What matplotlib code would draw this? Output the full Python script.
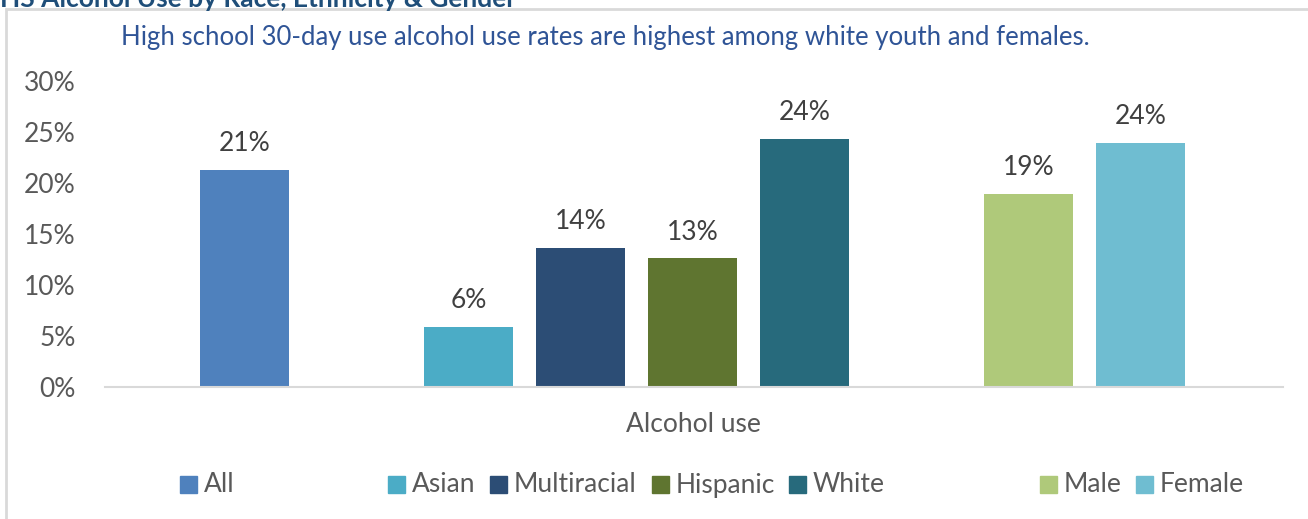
import matplotlib
matplotlib.use("Agg")
import matplotlib.pyplot as plt
from matplotlib.patches import Rectangle

# ---- data ----
groups = ["All", "Asian", "Multiracial", "Hispanic", "White", "Male", "Female"]
rates = [0.213, 0.059, 0.136, 0.126, 0.243, 0.189, 0.239]
slots = [0, 2, 3, 4, 5, 7, 8]          # empty slots separate the three blocks
colors = ["#4F81BD", "#4BACC6", "#2C4D75", "#5F7530", "#276A7C", "#AFC97A", "#6FBDD1"]
yticks = [0, 0.05, 0.10, 0.15, 0.20, 0.25, 0.30]
category = "Alcohol use"
title = "HS Alcohol Use by Race, Ethnicity & Gender"
subtitle = "High school 30-day use alcohol use rates are highest among white youth and females."

W, H = 1308, 519
plt.rcParams["font.family"] = ["Lato", "DejaVu Sans"]
fig = plt.figure(figsize=(W / 100, H / 100), dpi=100)

def px(x, y):
    """figure fraction from pixel coords measured from top-left"""
    return x / W, 1 - y / H

# outer frame
fig.patches.append(Rectangle(px(6, 530), (W + 20) / W, (530 - 9) / H,
                             transform=fig.transFigure, fill=False,
                             edgecolor="#D9D9D9", lw=2))

# heading (sits at the very top edge)
fig.text(*px(0, 7), title, fontsize=19, fontweight="bold", color="#1F4E79",
         va="baseline", ha="left")
fig.text(*px(605, 37), subtitle, fontsize=18.5, color="#2F5496",
         va="center", ha="center")

left, right, top, bottom = 105, 1283, 81, 387
ax = fig.add_axes([left / W, 1 - bottom / H, (right - left) / W, (bottom - top) / H])
bars = ax.bar(slots, rates, width=0.795, color=colors)
for s, v in zip(slots, rates):
    ax.text(s, v + 0.0185, f"{round(v * 100):d}%", ha="center", va="baseline",
            fontsize=19, color="#404040")

ax.set_ylim(0, 0.30)
ax.set_xlim(-1.25, 9.27)
ax.set_yticks(yticks)
ax.set_yticklabels([f"{round(t * 100):d}%" for t in yticks], fontsize=19, color="#595959")
ax.tick_params(axis="y", length=0, pad=21)
ax.set_xticks([])
for side in ["top", "right", "left"]:
    ax.spines[side].set_visible(False)
ax.spines["bottom"].set_color("#D9D9D9")
ax.spines["bottom"].set_linewidth(1.5)
ax.set_facecolor("none")

fig.text(*px(693, 425), category, fontsize=19, color="#595959", ha="center", va="center")

# legend entries laid out in three groups
legend_x = [180, 388, 490, 652, 789, 1040, 1136]
for x, name, c in zip(legend_x, groups, colors):
    fig.patches.append(Rectangle(px(x, 493), 17 / W, 17 / H,
                                 transform=fig.transFigure, color=c))
    fig.text(*px(x + 24, 485), name, fontsize=19, color="#595959",
             ha="left", va="center")

fig.savefig("out.png", dpi=100)
